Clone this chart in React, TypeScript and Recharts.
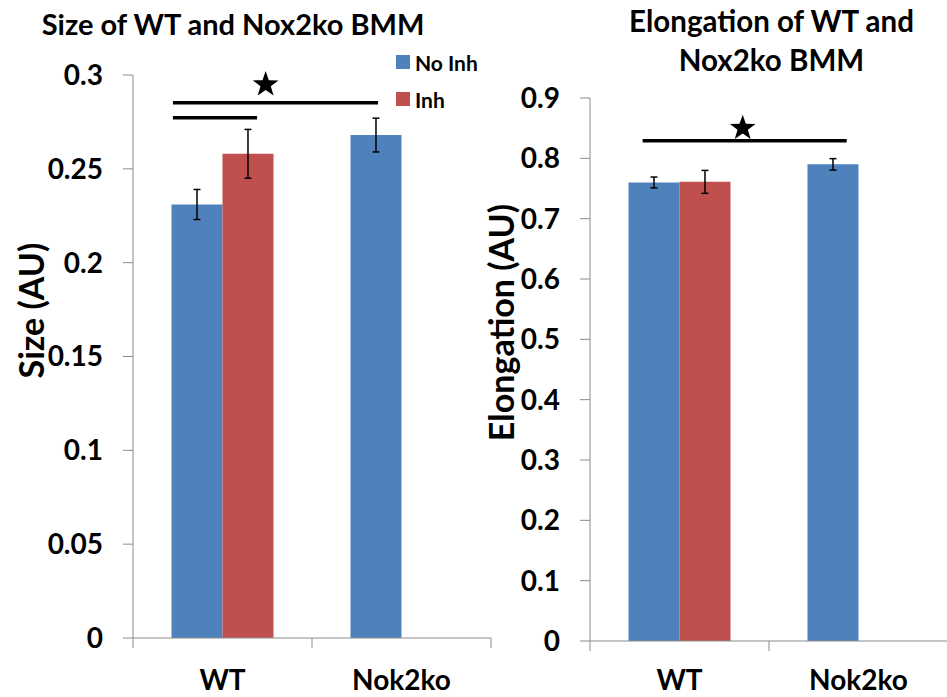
import React from 'react';
import {
  BarChart, Bar, XAxis, YAxis, ErrorBar, ReferenceLine, ReferenceDot, Legend,
} from 'recharts';

const categories = ['WT', 'Nok2ko'];
const categoryCenters = [0.5, 1.5];
const seriesNames = ['No Inh', 'Inh'];

const sizeNoInh = [0.231, 0.268];
const sizeNoInhErr = [0.008, 0.009];
const sizeInh: (number | null)[] = [0.258, null];
const sizeInhErr: (number | null)[] = [0.013, null];

const elongNoInh = [0.76, 0.79];
const elongNoInhErr = [0.009, 0.0095];
const elongInh: (number | null)[] = [0.761, null];
const elongInhErr: (number | null)[] = [0.019, null];

const sizeTicks = [0, 0.05, 0.1, 0.15, 0.2, 0.25, 0.3];
const elongTicks = [0, 0.1, 0.2, 0.3, 0.4, 0.5, 0.6, 0.7, 0.8, 0.9];
const bandTicks = [0, 0.5, 1, 1.5, 2];

// significance annotations (in category-band units / value units)
const sizeSigLines = [
  { x1: 0.223, x2: 1.369, y: 0.2852 },
  { x1: 0.223, x2: 0.693, y: 0.2772 },
];
const sizeStar = { x: 0.741, y: 0.2957 };
const elongSigLines = [{ x1: 0.294, x2: 1.434, y: 0.829 }];
const elongStar = { x: 0.853, y: 0.8525 };

const BLUE = '#4F81BD';
const RED = '#C0504D';
const GRID = '#8c8c8c';
const FONT = 'Lato, "Open Sans", sans-serif';

const sizeData = categories.map((c, i) => ({
  cat: c,
  pos: categoryCenters[i],
  noInh: sizeNoInh[i],
  noInhErr: sizeNoInhErr[i],
  inh: sizeInh[i],
  inhErr: sizeInhErr[i],
}));
const elongData = categories.map((c, i) => ({
  cat: c,
  pos: categoryCenters[i],
  noInh: elongNoInh[i],
  noInhErr: elongNoInhErr[i],
  inh: elongInh[i],
  inhErr: elongInhErr[i],
}));

const BandTick = (props: any) => {
  const { x, y, payload, labelOffset = 42 } = props;
  const v = payload.value;
  if (Number.isInteger(v)) {
    return <line x1={x} x2={x} y1={y - 10} y2={y} stroke={GRID} strokeWidth={1} />;
  }
  return (
    <text x={x} y={y + labelOffset} textAnchor="middle" fontFamily={FONT} fontWeight={700} fontSize={28} fill="#000">
      {categories[Math.floor(v)]}
    </text>
  );
};

const StarShape = (props: any) => {
  const { cx, cy } = props;
  if (cx == null || cy == null) return null;
  const R = 13.5;
  const r = R * 0.4;
  const pts: string[] = [];
  for (let k = 0; k < 10; k++) {
    const rad = k % 2 === 0 ? R : r;
    const a = -Math.PI / 2 + (k * Math.PI) / 5;
    pts.push(`${cx + rad * Math.cos(a)},${cy + 1.5 + rad * Math.sin(a)}`);
  }
  return <polygon points={pts.join(' ')} fill="#000" />;
};

const renderLegend = (props: any) => {
  const { payload } = props;
  const items = [...(payload || [])].sort(
    (a: any, b: any) => seriesNames.indexOf(a.value) - seriesNames.indexOf(b.value),
  );
  return (
    <div>
      {items.map((e: any) => (
        <div key={e.value} style={{ display: 'flex', alignItems: 'center', height: 37 }}>
          <span style={{ display: 'inline-block', width: 14, height: 14, background: e.color, marginRight: 5 }} />
          <span style={{ fontFamily: FONT, fontWeight: 700, fontSize: 21, color: '#000' }}>{e.value}</span>
        </div>
      ))}
    </div>
  );
};

const yLabel = (text: string, dyShift: number) => (props: any) => {
  const vb = props.viewBox || {};
  const cx = 30;
  const cy = vb.y + vb.height / 2 + dyShift;
  return (
    <text
      x={cx}
      y={cy}
      transform={`rotate(-90 ${cx} ${cy})`}
      textAnchor="middle"
      dominantBaseline="central"
      fontFamily={FONT}
      fontWeight={700}
      fontSize={34}
      fill="#000"
    >
      {text}
    </text>
  );
};

const tickStyle = { fontFamily: FONT, fontWeight: 700, fontSize: 28, fill: '#000' };

export default function App() {
  return (
    <div style={{ position: 'absolute', left: 0, top: 0, width: 947, height: 697, background: '#fff', overflow: 'hidden' }}>
      <div style={{ position: 'absolute', left: 0, top: 0 }}>
        <BarChart
          width={500}
          height={697}
          data={sizeData}
          margin={{ top: 75, right: 9, bottom: 0, left: 0 }}
          barCategoryGap="21.5%"
          barGap={0}
        >
          <XAxis xAxisId="cat" dataKey="cat" type="category" hide height={0} />
          <XAxis
            xAxisId="num"
            dataKey="pos"
            type="number"
            domain={[0, 2]}
            ticks={bandTicks}
            allowDataOverflow
            height={59}
            tickSize={10}
            tickMargin={0}
            tickLine={false}
            tick={<BandTick labelOffset={42} />}
            axisLine={{ stroke: GRID, strokeWidth: 1 }}
            interval={0}
          />
          <YAxis
            domain={[0, 0.3]}
            ticks={sizeTicks}
            width={133}
            tickSize={10}
            tickMargin={20}
            tick={tickStyle}
            tickLine={{ stroke: GRID }}
            axisLine={{ stroke: GRID, strokeWidth: 1 }}
            interval={0}
            allowDataOverflow
            label={{ content: yLabel('Size (AU)', -46) } as any}
          />
          <Legend
            layout="vertical"
            align="center"
            verticalAlign="middle"
            wrapperStyle={{ position: 'absolute', left: 396, top: 43.5, width: 110 }}
            content={renderLegend}
          />
          <Bar xAxisId="cat" dataKey="noInh" name={seriesNames[0]} fill={BLUE} isAnimationActive={false}>
            <ErrorBar dataKey="noInhErr" width={3.5} stroke="#000" strokeWidth={1.5} direction="y" />
          </Bar>
          <Bar xAxisId="cat" dataKey="inh" name={seriesNames[1]} fill={RED} isAnimationActive={false}>
            <ErrorBar dataKey="inhErr" width={3.5} stroke="#000" strokeWidth={1.5} direction="y" />
          </Bar>
          {sizeSigLines.map((s, i) => (
            <ReferenceLine
              key={i}
              xAxisId="num"
              segment={[{ x: s.x1, y: s.y }, { x: s.x2, y: s.y }]}
              stroke="#000"
              strokeWidth={3.5}
            />
          ))}
          <ReferenceDot xAxisId="num" x={sizeStar.x} y={sizeStar.y} r={0} shape={<StarShape />} />
        </BarChart>
      </div>

      <div style={{ position: 'absolute', left: 470, top: 0 }}>
        <BarChart
          width={478}
          height={697}
          data={elongData}
          margin={{ top: 98, right: 0, bottom: 0, left: 0 }}
          barCategoryGap="21.5%"
          barGap={0}
        >
          <XAxis xAxisId="cat" dataKey="cat" type="category" hide height={0} />
          <XAxis
            xAxisId="num"
            dataKey="pos"
            type="number"
            domain={[0, 2]}
            ticks={bandTicks}
            allowDataOverflow
            height={56}
            tickSize={10}
            tickMargin={0}
            tickLine={false}
            tick={<BandTick labelOffset={39} />}
            axisLine={{ stroke: GRID, strokeWidth: 1 }}
            interval={0}
          />
          <YAxis
            domain={[0, 0.9]}
            ticks={elongTicks}
            width={120}
            tickSize={10}
            tickMargin={20}
            tick={tickStyle}
            tickLine={{ stroke: GRID }}
            axisLine={{ stroke: GRID, strokeWidth: 1 }}
            interval={0}
            allowDataOverflow
            label={{ content: yLabel('Elongation (AU)', -47) } as any}
          />
          <Bar xAxisId="cat" dataKey="noInh" name={seriesNames[0]} fill={BLUE} isAnimationActive={false}>
            <ErrorBar dataKey="noInhErr" width={3.5} stroke="#000" strokeWidth={1.5} direction="y" />
          </Bar>
          <Bar xAxisId="cat" dataKey="inh" name={seriesNames[1]} fill={RED} isAnimationActive={false}>
            <ErrorBar dataKey="inhErr" width={3.5} stroke="#000" strokeWidth={1.5} direction="y" />
          </Bar>
          {elongSigLines.map((s, i) => (
            <ReferenceLine
              key={i}
              xAxisId="num"
              segment={[{ x: s.x1, y: s.y }, { x: s.x2, y: s.y }]}
              stroke="#000"
              strokeWidth={3.5}
            />
          ))}
          <ReferenceDot xAxisId="num" x={elongStar.x} y={elongStar.y} r={0} shape={<StarShape />} />
        </BarChart>
      </div>

      <svg width={947} height={100} style={{ position: 'absolute', left: 0, top: 0, pointerEvents: 'none' }}>
        <text x={233} y={35} textAnchor="middle" fontFamily={FONT} fontWeight={700} fontSize={29} fill="#000">
          Size of WT and Nox2ko BMM
        </text>
        <text x={771.5} y={32} textAnchor="middle" fontFamily={FONT} fontWeight={700} fontSize={29.5} fill="#000">
          Elongation of WT and
        </text>
        <text x={771.5} y={71} textAnchor="middle" fontFamily={FONT} fontWeight={700} fontSize={29.5} fill="#000">
          Nox2ko BMM
        </text>
      </svg>
    </div>
  );
}
